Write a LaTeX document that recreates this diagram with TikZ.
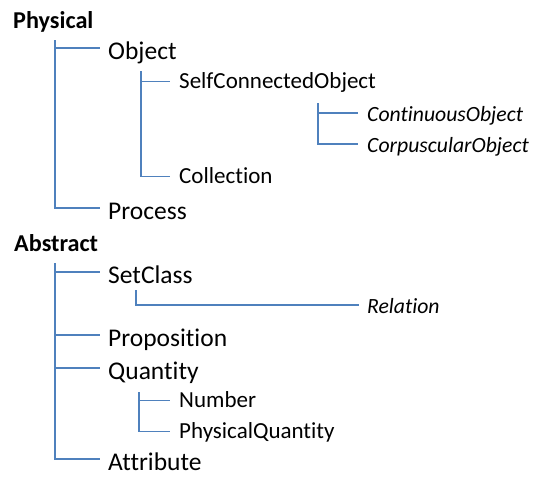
\documentclass[tikz,border=0pt]{standalone}
\usepackage{fontspec}
\setmainfont{Carlito}[Ligatures=NoCommon]
\definecolor{linkblue}{HTML}{4F81BD}
\begin{document}
\begin{tikzpicture}[x=1pt,y=-1pt,
  % the west anchor of each label sits where its connector meets it
  lvlone/.style={anchor=base west, inner sep=0pt, text height=22pt, text depth=0pt,
              font=\fontsize{25.5}{28}\selectfont},
  lvltwo/.style={anchor=base west, inner sep=0pt, text height=13pt, text depth=0pt,
              font=\fontsize{23}{26}\selectfont},
  lvlthree/.style={anchor=base west, inner sep=0pt, text height=16pt, text depth=0pt,
              font=\fontsize{21.7}{26}\selectfont\itshape},
  top/.style={anchor=base west, inner sep=0pt, font=\fontsize{24.2}{28}\selectfont\bfseries},
  link/.style={draw=linkblue, line width=1.9pt}]
\useasboundingbox (0,0) rectangle (534,477);

% Physical branch
\node[top] (physical) at (13,28) {Physical};
\node[lvlone] (object) at (108,59) {Object};
\node[lvltwo] (selfconn) at (179,88) {SelfConnectedObject};
\node[lvlthree] (continuous) at (367,121) {ContinuousObject};
\node[lvlthree] (corpuscular) at (367,152) {CorpuscularObject};
\node[lvltwo] (collection) at (179,183) {Collection};
\node[lvlone] (process) at (108,219) {Process};

% Abstract branch
\node[top] (abstract) at (14,251) {Abstract};
\node[lvlone] (setclass) at (108,283) {SetClass};
\node[lvlthree] (relation) at (367,313) {Relation};
\node[lvlone] (proposition) at (108,346) {Proposition};
\node[lvlone] (quantity) at (108,379) {Quantity};
\node[lvltwo] (number) at (179,407) {Number};
\node[lvltwo] (physq) at (179,438) {PhysicalQuantity};
\node[lvlone] (attribute) at (108,470) {Attribute};

% tops of the vertical trunks
\coordinate (tPhys) at (55,40);
\coordinate (tObj) at (141,71);
\coordinate (tSelf) at (318,103);
\coordinate (tAbs) at (55,263);
\coordinate (tSet) at (136,290);
\coordinate (tQty) at (139,392);

\draw[link] (tPhys) |- ([xshift=-8pt]object.west);
\draw[link] (tPhys) |- ([xshift=-8pt]process.west);
\draw[link] (tObj) |- ([xshift=-9pt]selfconn.west);
\draw[link] (tObj) |- ([xshift=-9pt]collection.west);
\draw[link] (tSelf) |- ([xshift=-9pt]continuous.west);
\draw[link] (tSelf) |- ([xshift=-9pt]corpuscular.west);

\draw[link] (tAbs) |- ([xshift=-8pt]setclass.west);
\draw[link] (tAbs) |- ([xshift=-8pt]proposition.west);
\draw[link] (tAbs) |- ([xshift=-8pt]quantity.west);
\draw[link] (tAbs) |- ([xshift=-8pt]attribute.west);
\draw[link] (tSet) |- ([xshift=-8pt]relation.west);
\draw[link] (tQty) |- ([xshift=-9pt]number.west);
\draw[link] (tQty) |- ([xshift=-9pt]physq.west);
\end{tikzpicture}
\end{document}
